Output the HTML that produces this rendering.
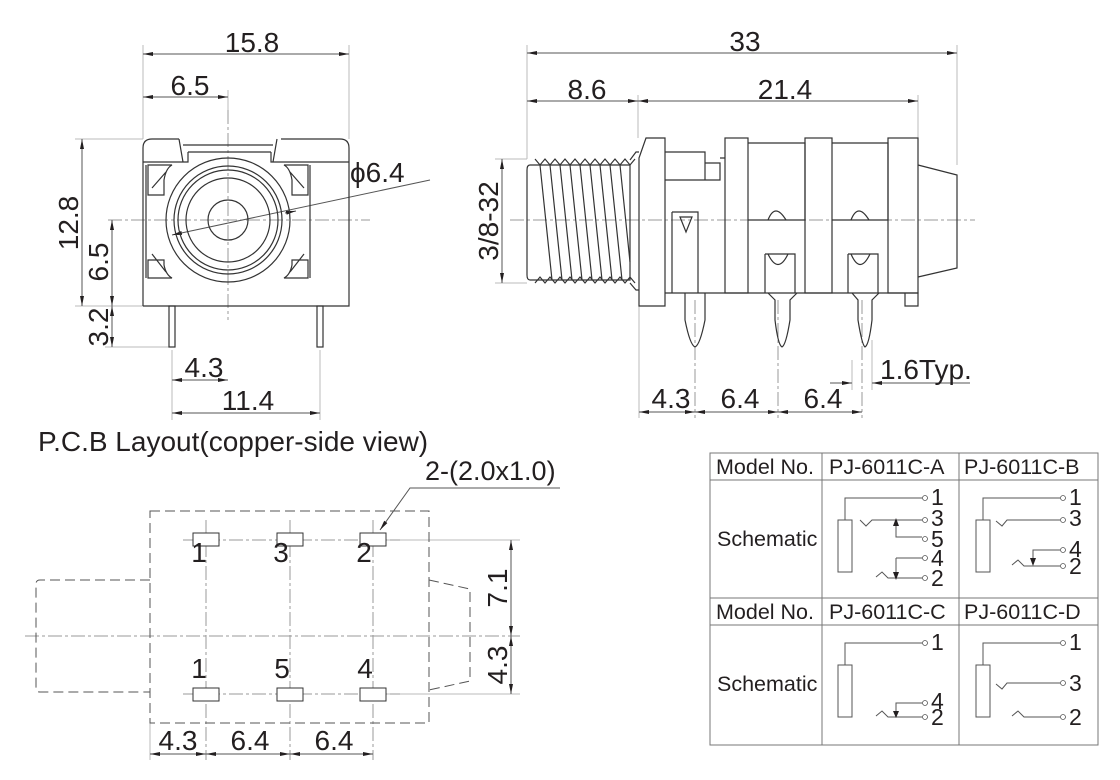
<!DOCTYPE html>
<html><head><meta charset="utf-8"><style>
html,body{margin:0;padding:0;background:#fff}
svg{display:block}
text{font-family:"Liberation Sans",sans-serif;fill:#231f20}
</style></head><body>
<svg width="1120" height="780" viewBox="0 0 1120 780" xmlns="http://www.w3.org/2000/svg">
<defs>
<marker id="a" viewBox="0 0 10 4" refX="10" refY="2" markerWidth="10" markerHeight="4" markerUnits="userSpaceOnUse" orient="auto-start-reverse"><path d="M0,0L10,2L0,4z" fill="#231f20"/></marker>
</defs>
<g stroke="#bbb" stroke-width="1" fill="none">
<line x1="143" y1="45" x2="143" y2="139"/><line x1="349" y1="45" x2="349" y2="139"/>
<line x1="228" y1="90" x2="228" y2="110"/>
<line x1="75" y1="139" x2="143" y2="139"/><line x1="75" y1="306" x2="143" y2="306"/>
<line x1="105" y1="347" x2="172" y2="347"/>
<line x1="172" y1="350" x2="172" y2="420"/><line x1="320" y1="350" x2="320" y2="420"/>
<line x1="527" y1="45" x2="527" y2="159"/><line x1="957" y1="45" x2="957" y2="165"/>
<line x1="638" y1="95" x2="638" y2="138"/><line x1="918" y1="95" x2="918" y2="138"/>
<line x1="495" y1="159" x2="527" y2="159"/><line x1="495" y1="283" x2="527" y2="283"/>
<line x1="639" y1="306" x2="639" y2="418"/>
<line x1="852" y1="360" x2="852" y2="390"/><line x1="872" y1="340" x2="872" y2="390"/>
<line x1="150" y1="723" x2="150" y2="760"/>
<line x1="380" y1="540" x2="520" y2="540"/><line x1="380" y1="694" x2="520" y2="694"/>
</g>
<g stroke="#999" stroke-width="1" fill="none" stroke-dasharray="14,3,3,3">
<line x1="108" y1="220" x2="370" y2="220"/><line x1="228" y1="110" x2="228" y2="320"/>
<line x1="510" y1="220" x2="975" y2="220"/>
<line x1="695" y1="300" x2="695" y2="418"/><line x1="778" y1="300" x2="778" y2="418"/><line x1="862" y1="300" x2="862" y2="418"/>
<line x1="25" y1="636" x2="520" y2="636"/>
<line x1="183" y1="540" x2="400" y2="540"/><line x1="183" y1="694" x2="400" y2="694"/>
<line x1="206" y1="520" x2="206" y2="760"/><line x1="290" y1="520" x2="290" y2="760"/><line x1="373" y1="520" x2="373" y2="760"/>
</g>
<g stroke="#555" stroke-width="1" fill="none" marker-start="url(#a)" marker-end="url(#a)">
<line x1="143" y1="54" x2="349" y2="54"/>
<line x1="143" y1="97" x2="228" y2="97"/>
<line x1="82" y1="139" x2="82" y2="306"/>
<line x1="112" y1="220" x2="112" y2="306"/>
<line x1="112" y1="306" x2="112" y2="347"/>
<line x1="172" y1="380" x2="228" y2="380"/>
<line x1="172" y1="413" x2="320" y2="413"/>
<line x1="527" y1="53" x2="957" y2="53"/>
<line x1="527" y1="101" x2="638" y2="101"/>
<line x1="638" y1="101" x2="918" y2="101"/>
<line x1="502" y1="159" x2="502" y2="283"/>
<line x1="639" y1="412" x2="695" y2="412"/>
<line x1="695" y1="412" x2="778" y2="412"/>
<line x1="778" y1="412" x2="862" y2="412"/>
<line x1="150" y1="754" x2="206" y2="754"/>
<line x1="206" y1="754" x2="290" y2="754"/>
<line x1="290" y1="754" x2="373" y2="754"/>
<line x1="511" y1="540" x2="511" y2="636"/>
<line x1="511" y1="636" x2="511" y2="694"/>
</g>
<g stroke="#555" stroke-width="1" fill="none">
<line x1="830" y1="383" x2="852" y2="383" marker-end="url(#a)"/>
<line x1="970" y1="383" x2="872" y2="383" marker-end="url(#a)"/>
<line x1="430" y1="180" x2="172" y2="235" marker-end="url(#a)"/>
<line x1="296" y1="211" x2="285" y2="213" marker-start="url(#a)"/>
<polyline points="560,488 410,488 380,530" marker-end="url(#a)"/>
</g>
<g stroke="#333" stroke-width="1.2" fill="none">
<path d="M143,306 V148 Q143,139 152,139 H179 M281,139 H340 Q349,139 349,148 V306 H143"/>
<path d="M143,162 H188 V152 M179,139 L183,162 M188,152 H271 M271,152 V162 H349 M277,139 L273,162 M183,145 H273"/>
<circle cx="228" cy="220" r="62"/><circle cx="228" cy="220" r="54"/><circle cx="228" cy="220" r="50"/><circle cx="228" cy="220" r="42"/><circle cx="228" cy="220" r="20"/>
<path d="M148,165 H172 Q166,168 164,180 V195 H148 Z M152,188 L166,172"/>
<path d="M308,165 H284 Q290,168 292,180 V195 H308 Z M304,188 L290,172"/>
<path d="M148,260 H164 V265 Q166,275 172,278 H148 Z M152,254 L166,272" />
<path d="M308,260 H292 V265 Q290,275 284,278 H308 Z M304,254 L290,272"/>
<line x1="146" y1="165" x2="146" y2="278"/><line x1="310" y1="165" x2="310" y2="278"/>
<rect x="169" y="306" width="6" height="41"/><rect x="317" y="306" width="6" height="41"/>
</g>
<g stroke="#333" stroke-width="1.2" fill="none">
<path d="M530,165 H630 V280 H530 Q527,280 527,275 V170 Q527,165 530,165Z"/>
<path d="M535,159 l5,6 5,-6 5,6 5,-6 5,6 5,-6 5,6 5,-6 5,6 5,-6 5,6 5,-6 5,6 5,-6 5,6 5,-6 5,6 5,-6 5,6 5,-6 M535,283 l5,-6 5,6 5,-6 5,6 5,-6 5,6 5,-6 5,6 5,-6 5,6 5,-6 5,6 5,-6 5,6 5,-6 5,6 5,-6 5,6 5,-6 5,6"/>
<path d="M540,165 L552,280 M550,165 L562,280 M560,165 L572,280 M570,165 L582,280 M580,165 L592,280 M590,165 L602,280 M600,165 L612,280 M610,165 L622,280 M620,165 L630,262"/>
<path d="M630,160 L636,152 H639 M630,283 L636,290 H639"/>
<path d="M639,306 V158 L646,138 H665 V306 Z"/>
<path d="M665,152 H705 V180 H665 M705,163 H720 V180 H705 M720,158 H725"/>
<rect x="725" y="138" width="23" height="155"/>
<path d="M748,143 H805 V220 H748"/>
<rect x="805" y="138" width="27" height="155"/>
<path d="M832,143 H888 V220 H832"/>
<rect x="888" y="138" width="30" height="155"/>
<path d="M918,165 L957,175 V268 L918,277"/>
<path d="M665,293 H918 V306 H905 V293"/>
<path d="M672,212 H698 V293 M672,212 V293"/>
<path d="M680,217 L686,232 L692,217Z"/>
<path d="M765,254 H795 V293 M765,254 V293 M848,254 H878 V293 M848,254 V293"/>
<path d="M768,220 Q775,202 786,220 M768,254 Q778,275 788,254 M851,220 Q858,202 869,220 M851,254 Q860,275 870,254"/>
<path d="M685,293 V320 Q690,345 695,347 Q700,345 705,320 V293"/>
<path d="M768,293 L775,300 V320 Q778,345 782,347 Q786,345 790,320 V300 L797,293"/>
<path d="M852,293 L858,300 V320 Q862,345 865,347 Q869,345 872,320 V300 L879,293"/>
</g>
<g stroke="#555" stroke-width="1" fill="none" stroke-dasharray="10,5">
<rect x="150" y="511" width="279" height="212"/>
<path d="M150,580 H40 Q36,580 36,584 V688 Q36,692 40,692 H150"/>
<path d="M429,580 L470,589 V681 L429,690"/>
</g>
<g stroke="#333" stroke-width="1" fill="#fff">
<rect x="193" y="533" width="26" height="13"/><rect x="277" y="533" width="26" height="13"/><rect x="360" y="533" width="26" height="13"/>
<rect x="193" y="688" width="26" height="13"/><rect x="277" y="688" width="26" height="13"/><rect x="360" y="688" width="26" height="13"/>
</g>
<g font-size="28">
<text x="252" y="52" text-anchor="middle">15.8</text>
<text x="190" y="95" text-anchor="middle">6.5</text>
<text x="745" y="51" text-anchor="middle">33</text>
<text x="587" y="99" text-anchor="middle">8.6</text>
<text x="785" y="99" text-anchor="middle">21.4</text>
<text x="350" y="182">ϕ6.4</text>
<text transform="translate(78,223) rotate(-90)" text-anchor="middle">12.8</text>
<text transform="translate(108,262) rotate(-90)" text-anchor="middle">6.5</text>
<text transform="translate(108,327) rotate(-90)" text-anchor="middle">3.2</text>
<text transform="translate(498,221) rotate(-90)" text-anchor="middle">3/8-32</text>
<text x="204" y="377" text-anchor="middle">4.3</text>
<text x="248" y="410" text-anchor="middle">11.4</text>
<text x="671" y="408" text-anchor="middle">4.3</text>
<text x="740" y="408" text-anchor="middle">6.4</text>
<text x="823" y="408" text-anchor="middle">6.4</text>
<text x="880" y="379">1.6Typ.</text>
<text x="38" y="451" font-size="28">P.C.B Layout(copper-side view)</text>
<text x="425" y="480" font-size="27">2-(2.0x1.0)</text>
<text x="199" y="562" text-anchor="middle">1</text><text x="281" y="562" text-anchor="middle">3</text><text x="364" y="562" text-anchor="middle">2</text>
<text x="199" y="678" text-anchor="middle">1</text><text x="282" y="678" text-anchor="middle">5</text><text x="365" y="678" text-anchor="middle">4</text>
<text x="178" y="750" text-anchor="middle">4.3</text>
<text x="250" y="750" text-anchor="middle">6.4</text>
<text x="334" y="750" text-anchor="middle">6.4</text>
<text transform="translate(507,588) rotate(-90)" text-anchor="middle">7.1</text>
<text transform="translate(507,665) rotate(-90)" text-anchor="middle">4.3</text>
</g>
<g stroke="#777" stroke-width="1" fill="none">
<rect x="710" y="453" width="388" height="292"/>
<line x1="710" y1="480" x2="1098" y2="480"/><line x1="710" y1="598" x2="1098" y2="598"/><line x1="710" y1="625" x2="1098" y2="625"/>
<line x1="822" y1="453" x2="822" y2="745"/><line x1="959" y1="453" x2="959" y2="745"/>
</g>
<g font-size="21.5">
<text x="716" y="474">Model No.</text><text x="829" y="474">PJ-6011C-A</text><text x="964" y="474">PJ-6011C-B</text>
<text x="716" y="619">Model No.</text><text x="829" y="619">PJ-6011C-C</text><text x="964" y="619">PJ-6011C-D</text>
<text x="717" y="546">Schematic</text><text x="717" y="691">Schematic</text>
</g>
<g stroke="#555" stroke-width="1" fill="none">
<rect x="838" y="520" width="14" height="52"/>
<path d="M845,520 V498 H922 M860,520 L866,526 L872,520 H922 M896,520 V537 H922 M896,558 V578 H922 M876,577 L882,572 L888,578 H896 M896,558 H922"/>
<rect x="976" y="520" width="14" height="52"/>
<path d="M983,520 V498 H1060 M996,521 L1002,526 L1007,520 H1060 M1033,558 V550 H1060 M1012,565 L1018,560 L1024,566 H1060"/>
<rect x="838" y="665" width="14" height="52"/>
<path d="M845,665 V643 H922 M896,717 V703 H922 M876,716 L882,711 L888,717 H922"/>
<rect x="976" y="665" width="14" height="52"/>
<path d="M983,665 V643 H1060 M996,684 L1002,689 L1007,683 H1060 M1012,716 L1018,711 L1024,717 H1060"/>
</g>
<g stroke="#555" stroke-width="0.8" fill="#fff">
<circle cx="925" cy="498" r="2.5"/><circle cx="925" cy="520" r="2.5"/><circle cx="925" cy="539" r="2.5"/><circle cx="925" cy="558" r="2.5"/><circle cx="925" cy="578" r="2.5"/>
<circle cx="1063" cy="498" r="2.5"/><circle cx="1063" cy="520" r="2.5"/><circle cx="1063" cy="550" r="2.5"/><circle cx="1063" cy="566" r="2.5"/>
<circle cx="925" cy="643" r="2.5"/><circle cx="925" cy="703" r="2.5"/><circle cx="925" cy="717" r="2.5"/>
<circle cx="1063" cy="643" r="2.5"/><circle cx="1063" cy="683" r="2.5"/><circle cx="1063" cy="717" r="2.5"/>
</g>
<g fill="#231f20">
<path d="M893,526 L896,518 L899,526Z"/><path d="M893,572 L896,580 L899,572Z"/>
<path d="M1030,558 L1033,566 L1036,558Z"/><path d="M893,711 L896,718 L899,711Z"/>
</g>
<g font-size="23">
<text x="931" y="505">1</text><text x="931" y="526">3</text><text x="931" y="547">5</text><text x="931" y="566">4</text><text x="931" y="586">2</text>
<text x="1069" y="505">1</text><text x="1069" y="526">3</text><text x="1069" y="557">4</text><text x="1069" y="574">2</text>
<text x="931" y="650">1</text><text x="931" y="709">4</text><text x="931" y="725">2</text>
<text x="1069" y="650">1</text><text x="1069" y="691">3</text><text x="1069" y="725">2</text>
</g>
</svg>
</body></html>
